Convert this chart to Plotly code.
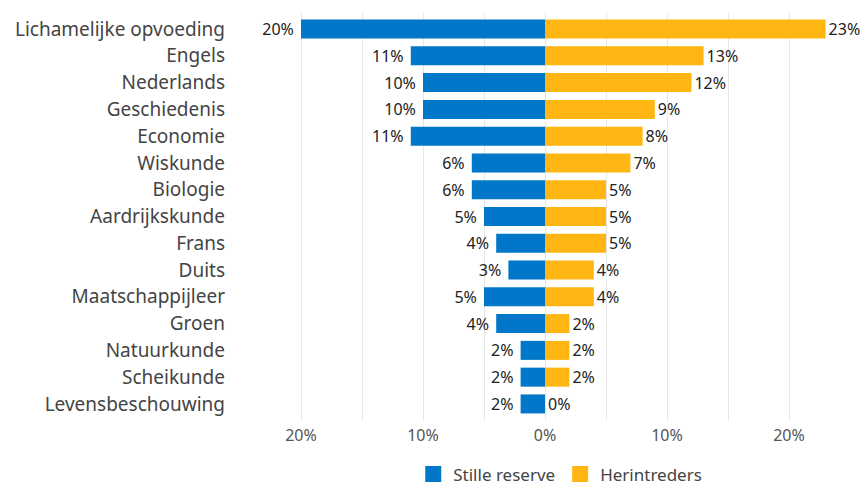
import plotly.graph_objects as go

categories = ["Lichamelijke opvoeding", "Engels", "Nederlands", "Geschiedenis", "Economie",
              "Wiskunde", "Biologie", "Aardrijkskunde", "Frans", "Duits", "Maatschappijleer",
              "Groen", "Natuurkunde", "Scheikunde", "Levensbeschouwing"]
stille_reserve = [20, 11, 10, 10, 11, 6, 6, 5, 4, 3, 5, 4, 2, 2, 2]
herintreders = [23, 13, 12, 9, 8, 7, 5, 5, 5, 4, 4, 2, 2, 2, 0]
tick_vals = [-25, -20, -15, -10, -5, 0, 5, 10, 15, 20, 25]
tick_text = ["", "20%", "", "10%", "", "0%", "", "10%", "", "20%", ""]

FONT = "Noto Sans"
BLUE = "#0077c8"
YELLOW = "#ffb612"

fig = go.Figure()
fig.add_trace(go.Bar(
    y=categories, x=[-v for v in stille_reserve], orientation="h",
    name="Stille reserve", marker=dict(color=BLUE, line=dict(width=0)),
    text=[f"{v}% " for v in stille_reserve], textposition="outside",
    textfont=dict(size=16, color="#222222", family=FONT), cliponaxis=False,
    constraintext="none", showlegend=False, hoverinfo="skip"))
fig.add_trace(go.Bar(
    y=categories, x=herintreders, orientation="h",
    name="Herintreders", marker=dict(color=YELLOW, line=dict(width=0)),
    text=[f"{v}%" for v in herintreders], textposition="outside",
    textfont=dict(size=16, color="#222222", family=FONT), cliponaxis=False,
    constraintext="none", showlegend=False, hoverinfo="skip"))

# legend proxies with square swatches
for name, col in [("Stille reserve", BLUE), ("Herintreders", YELLOW)]:
    fig.add_trace(go.Scatter(
        x=[None], y=[None], mode="markers", name=name,
        marker=dict(symbol="square", size=18, color=col), showlegend=True))

fig.update_layout(
    width=861, height=488,
    barmode="relative", bargap=0.29,
    plot_bgcolor="white", paper_bgcolor="white",
    margin=dict(l=240, r=11, t=13, b=68),
    font=dict(family=FONT, color="#444444"),
    xaxis=dict(range=[-25, 25], tickvals=tick_vals, ticktext=tick_text,
               showgrid=True, gridcolor="#e6e6e6", gridwidth=1,
               zeroline=False, tickfont=dict(size=16, color="#555555"),
               ticks="", showline=False, fixedrange=True, automargin=False,
               ticklabelstandoff=4),
    yaxis=dict(categoryorder="array", categoryarray=categories,
               range=[14.6, -0.6], tickfont=dict(size=19, color="#444444"),
               ticks="", showgrid=False, zeroline=False, ticklabelstandoff=14,
               fixedrange=True, automargin=False),
    legend=dict(orientation="h", xref="paper", x=0.525, xanchor="center",
                yref="container", y=0.028, yanchor="middle",
                font=dict(size=17, color="#444444"), traceorder="normal",
                itemwidth=30),
)

fig.write_html("out.html", config={"displayModeBar": False},
               post_script="document.body.style.margin='0';document.body.style.overflow='hidden';")
